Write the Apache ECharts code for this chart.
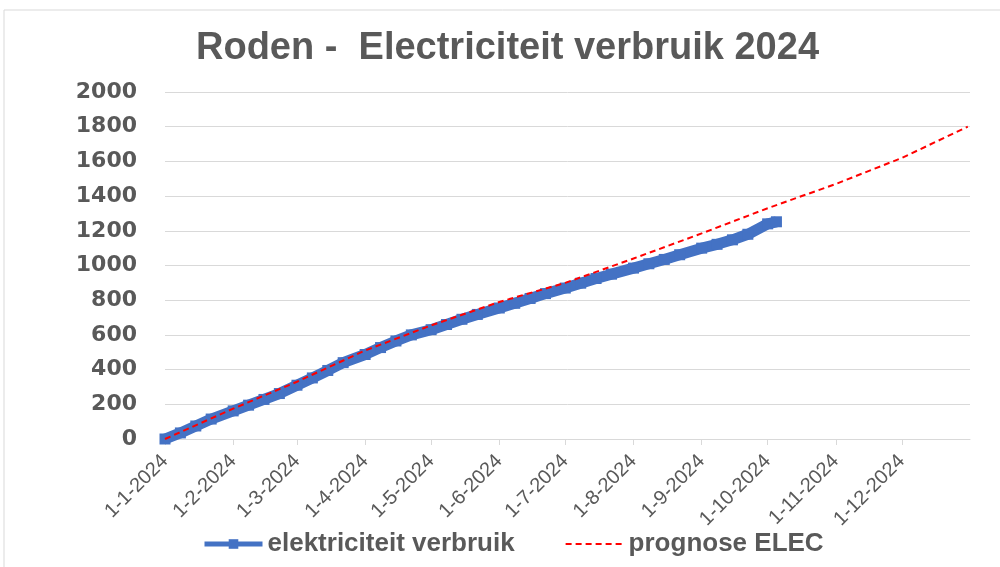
<!DOCTYPE html>
<html>
<head>
<meta charset="utf-8">
<script src="https://cdn.jsdelivr.net/npm/echarts@6/dist/echarts.min.js"></script>
<style>
  html, body { margin: 0; padding: 0; background: #fff; }
  #chart { width: 1000px; height: 567px; }
</style>
</head>
<body>
<div id="chart"></div>
<script>
// gemeten verbruik (cumulatief, kWh)
var verbruikDatums = ['2024-01-01','2024-01-08','2024-01-15','2024-01-22','2024-02-01','2024-02-08','2024-02-15','2024-02-22',
  '2024-03-01','2024-03-08','2024-03-15','2024-03-22','2024-04-01','2024-04-08','2024-04-15','2024-04-22',
  '2024-05-01','2024-05-08','2024-05-15','2024-05-22','2024-06-01','2024-06-08','2024-06-15','2024-06-22',
  '2024-07-01','2024-07-08','2024-07-15','2024-07-22','2024-08-01','2024-08-08','2024-08-15','2024-08-22',
  '2024-09-01','2024-09-08','2024-09-15','2024-09-22','2024-10-01','2024-10-05'];
var verbruikWaarden = [0, 35, 75, 115, 162, 195, 228, 262,
  310, 352, 395, 440, 487, 527, 565, 600,
  630, 660, 690, 718, 755, 782, 810, 838,
  870, 898, 925, 950, 985, 1010, 1035, 1062,
  1100, 1122, 1148, 1180, 1240, 1252];

// prognose per maand
var prognoseDatums = ['2024-01-01','2024-02-01','2024-03-01','2024-04-01','2024-05-01','2024-06-01','2024-07-01',
  '2024-08-01','2024-09-01','2024-10-01','2024-11-01','2024-12-01','2024-12-31'];
var prognoseWaarden = [0, 175, 330, 510, 655, 790, 900, 1040, 1185, 1330, 1470, 1620, 1800];

function ts(s) {
  var p = s.split('-');
  return +new Date(+p[0], +p[1] - 1, +p[2]);
}

var maandStarts = [];
for (var m = 0; m < 12; m++) maandStarts.push(+new Date(2024, m, 1));

function paren(datums, waarden) {
  return datums.map(function (d, i) { return [ts(d), waarden[i]]; });
}

var chart = echarts.init(document.getElementById('chart'));

var grijs = '#595959';

var option = {
  backgroundColor: '#fff',
  animation: false,
  graphic: [{
    type: 'rect',
    shape: { x: 4, y: 10, width: 1010, height: 600 },
    style: { fill: 'none', stroke: '#d9d9d9', lineWidth: 1 }
  }],
  title: {
    text: 'Roden -  Electriciteit verbruik 2024',
    left: 191,
    top: 25,
    textStyle: { fontFamily: 'Liberation Sans', fontSize: 38, fontWeight: 'bold', color: grijs }
  },
  legend: {
    bottom: 5,
    left: 197,
    itemGap: 50,
    itemWidth: 58,
    itemHeight: 12,
    textStyle: { fontFamily: 'Liberation Sans', fontSize: 26, fontWeight: 'bold', color: grijs },
    data: [
      { name: 'elektriciteit verbruik', lineStyle: { width: 5 } },
      { name: 'prognose ELEC', itemStyle: { opacity: 0 } }
    ]
  },
  grid: { left: 165, right: 30, top: 92, bottom: 128 },
  xAxis: {
    type: 'value',
    min: +new Date(2024, 0, 1),
    max: +new Date(2025, 0, 1),
    axisLine: { show: true, lineStyle: { color: '#d9d9d9', width: 1 } },
    axisTick: { show: true, customValues: maandStarts, length: 6, lineStyle: { color: '#d9d9d9' } },
    splitLine: { show: false },
    axisLabel: {
      customValues: maandStarts,
      rotate: 45,
      margin: 19,
      fontFamily: 'Liberation Sans',
      fontSize: 20,
      color: grijs,
      formatter: function (v) {
        var d = new Date(v);
        return d.getDate() + '-' + (d.getMonth() + 1) + '-' + d.getFullYear();
      }
    }
  },
  yAxis: {
    type: 'value',
    min: 0,
    max: 2000,
    interval: 200,
    axisLine: { show: false },
    axisTick: { show: false },
    splitLine: { lineStyle: { color: '#d9d9d9', width: 1 } },
    axisLabel: {
      fontFamily: 'DejaVu Sans', fontSize: 22, fontWeight: 'bold', color: grijs, margin: 28,
      formatter: function (v) { return String(v); }
    }
  },
  series: [
    {
      name: 'elektriciteit verbruik',
      type: 'line',
      data: paren(verbruikDatums, verbruikWaarden),
      symbol: 'rect',
      symbolSize: 11,
      showAllSymbol: true,
      itemStyle: { color: '#4472C4' },
      lineStyle: { color: '#4472C4', width: 11 },
      z: 2
    },
    {
      name: 'prognose ELEC',
      type: 'line',
      data: paren(prognoseDatums, prognoseWaarden),
      symbol: 'none',
      itemStyle: { color: '#FF0000' },
      lineStyle: { color: '#FF0000', width: 2, type: [6, 4] },
      z: 3
    }
  ]
};

chart.setOption(option);
</script>
</body>
</html>
